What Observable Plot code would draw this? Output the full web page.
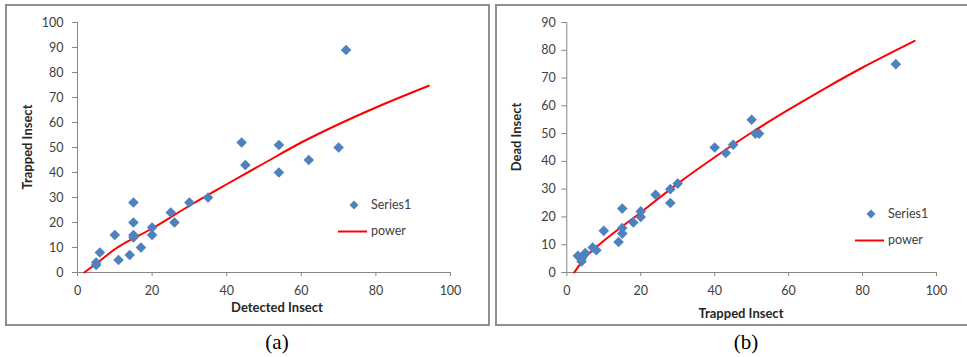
<!DOCTYPE html>
<html>
<head>
<meta charset="utf-8">
<script src="https://cdn.jsdelivr.net/npm/d3@7"></script>
<script src="https://cdn.jsdelivr.net/npm/@observablehq/plot@0.6"></script>
<style>
  html, body { margin: 0; padding: 0; background: #fff; }
  #root { position: relative; width: 967px; height: 357px; overflow: hidden; font-family: Lato, "Open Sans", sans-serif; }
  .panel { position: absolute; box-sizing: border-box; border: 2px solid #8f8f8f; }
  .abs { position: absolute; }
  .title { position: absolute; font-weight: bold; font-size: 13px; color: #262626; white-space: nowrap; }
  .caption { position: absolute; font-family: "Liberation Serif", serif; font-size: 21px; color: #000; transform: translate(-50%, -50%); }
  svg { overflow: visible; }
</style>
</head>
<body>
<div id="root"></div>
<script>
// ---------- data ----------
const aDetected = [72,44,45,54,54,62,70,35,30,25,26,20,20,15,15,15,15,17,14,11,10,6,5,5];
const aTrapped  = [89,52,43,51,40,45,50,30,28,24,20,18,15,28,20,15,14,10,7,5,15,8,4,3];
const aFitX = [1.8, 5, 10, 20, 30, 40, 50, 60, 70, 80, 94.2];
const aFitY = [0, 3.5, 9.3, 17.6, 26.7, 35.3, 43.7, 52, 59.3, 66, 74.7];

const bTrapped = [89,50,51,52,45,43,40,30,28,28,24,20,20,18,15,15,15,14,10,8,7,5,3,4,4];
const bDead    = [75,55,50,50,46,43,45,32,30,25,28,22,20,18,23,16,14,11,15,8,9,7,6,4,5];
const bFitX = [2, 5, 10, 20, 30, 40, 50, 60, 70, 80, 94.1];
const bFitY = [0, 5.4, 11.4, 21.6, 32, 41.5, 50.4, 58.6, 66.4, 73.8, 83.4];

const aXTicks = [0,20,40,60,80,100];
const aYTicks = [0,10,20,30,40,50,60,70,80,90,100];
const bXTicks = [0,20,40,60,80,100];
const bYTicks = [0,10,20,30,40,50,60,70,80,90];

const seriesNames = ["Series1", "power"];
const blue = "#4F81BD", red = "#FF0000", axisGray = "#868686", tickText = "#404040";

const diamond = {
  draw(ctx, size) {
    const h = Math.sqrt(size / Math.PI);
    ctx.moveTo(0, -h); ctx.lineTo(h, 0); ctx.lineTo(0, h); ctx.lineTo(-h, 0); ctx.closePath();
  }
};

const root = document.getElementById("root");
function place(el, left, top) {
  const d = document.createElement("div");
  d.className = "abs"; d.style.left = left + "px"; d.style.top = top + "px";
  d.appendChild(el); root.appendChild(d); return d;
}
function addDiv(cls, text, css) {
  const d = document.createElement("div");
  d.className = cls; if (text != null) d.textContent = text;
  Object.assign(d.style, css); root.appendChild(d); return d;
}

// panel borders
addDiv("panel", null, {left: "5px", top: "4px", width: "485px", height: "322px"});
addDiv("panel", null, {left: "495px", top: "4px", width: "480px", height: "322px"});

function chart({xs, ys, fx, fy, xTicks, yTicks, yMax, width, mLeft, mRight, yPad}) {
  const pts = xs.map((x, i) => ({x, y: ys[i]}));
  const fit = fx.map((x, i) => ({x, y: fy[i]}));
  return Plot.plot({
    width, height: 330,
    marginLeft: mLeft, marginRight: mRight, marginTop: 22, marginBottom: 58,
    style: {fontFamily: "Lato, 'Open Sans', sans-serif", fontSize: "12px", background: "transparent", overflow: "visible"},
    x: {domain: [0, 100]},
    y: {domain: [0, yMax]},
    marks: [
      Plot.ruleX([0], {stroke: axisGray, strokeWidth: 1}),
      Plot.ruleY([0], {stroke: axisGray, strokeWidth: 1}),
      Plot.axisY({ticks: yTicks, tickSize: 5, tickPadding: yPad, stroke: axisGray, fill: tickText, label: null, fontSize: 12.5}),
      Plot.axisX({ticks: xTicks, tickSize: 4, tickPadding: 10, stroke: axisGray, fill: tickText, label: null, fontSize: 12.5}),
      Plot.line(fit, {x: "x", y: "y", stroke: red, strokeWidth: 2, curve: "monotone-x"}),
      Plot.dot(pts, {x: "x", y: "y", symbol: diamond, r: 5.3, fill: blue, stroke: "none"})
    ]
  });
}

const A = chart({xs: aDetected, ys: aTrapped, fx: aFitX, fy: aFitY, xTicks: aXTicks, yTicks: aYTicks, yMax: 100, width: 490, mLeft: 77, mRight: 40, yPad: 9});
place(A, 0, 0);
const B = chart({xs: bTrapped, ys: bDead, fx: bFitX, fy: bFitY, xTicks: bXTicks, yTicks: bYTicks, yMax: 90, width: 477, mLeft: 76.3, mRight: 31, yPad: 6});
place(B, 490, 0);

// axis titles
addDiv("title", "Detected Insect", {left: "277px", top: "307px", transform: "translate(-50%,-50%)"});
addDiv("title", "Trapped Insect", {left: "27px", top: "147px", transform: "translate(-50%,-50%) rotate(-90deg)"});
addDiv("title", "Trapped Insect", {left: "741px", top: "313px", transform: "translate(-50%,-50%)"});
addDiv("title", "Dead Insect", {left: "516px", top: "137px", transform: "translate(-50%,-50%) rotate(-90deg)"});

// legends
function legend(left, top) {
  const ns = "http://www.w3.org/2000/svg";
  const svg = document.createElementNS(ns, "svg");
  svg.setAttribute("width", 90); svg.setAttribute("height", 40);
  const g = d3.select(svg).style("font-family", "Lato, 'Open Sans', sans-serif").style("font-size", "12.5px");
  g.append("path").attr("d", d3.symbol(diamond, Math.PI * 4.5 * 4.5)()).attr("transform", "translate(16,6)").attr("fill", blue);
  g.append("line").attr("x1", 0).attr("x2", 29).attr("y1", 32.5).attr("y2", 32.5).attr("stroke", red).attr("stroke-width", 2);
  g.append("text").attr("x", 33).attr("y", 6).attr("dy", "0.35em").attr("fill", tickText).text(seriesNames[0]);
  g.append("text").attr("x", 33).attr("y", 32).attr("dy", "0.35em").attr("fill", tickText).text(seriesNames[1]);
  place(svg, left, top);
}
legend(338, 199);
legend(855, 208);

// captions
addDiv("caption", "(a)", {left: "277px", top: "342px"});
addDiv("caption", "(b)", {left: "746px", top: "342px"});
</script>
</body>
</html>
